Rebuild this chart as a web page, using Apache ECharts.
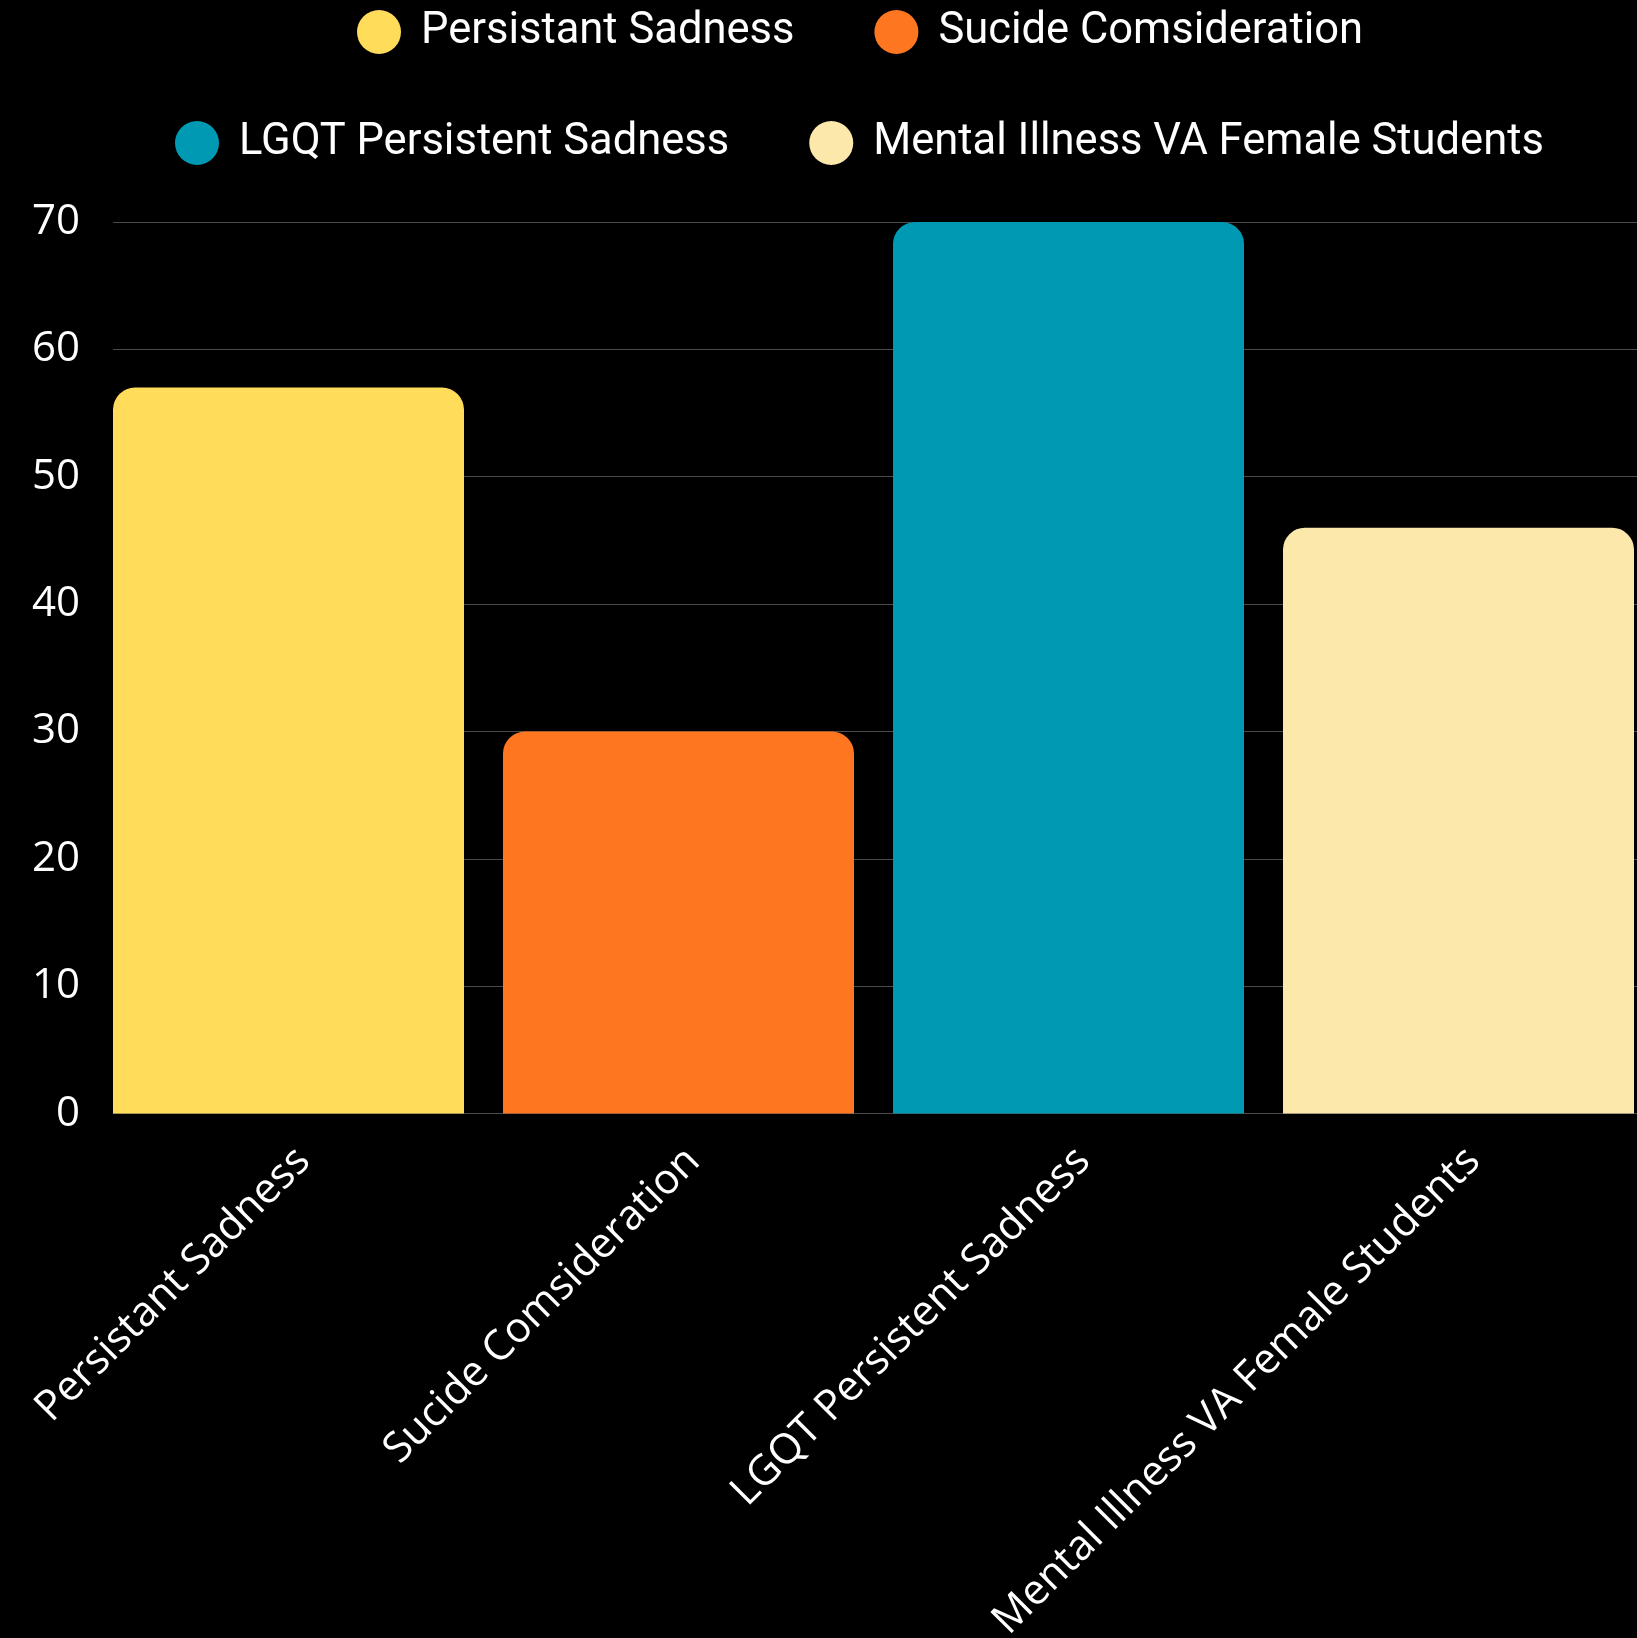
<!DOCTYPE html>
<html>
<head>
<meta charset="utf-8">
<script src="https://cdn.jsdelivr.net/npm/echarts@6/dist/echarts.min.js"></script>
<style>
html,body{margin:0;padding:0;background:#000;}
#chart{width:1637px;height:1638px;}
</style>
</head>
<body>
<div id="chart"></div>
<script>
const categories = ['Persistant Sadness', 'Sucide Comsideration', 'LGQT Persistent Sadness', 'Mental Illness VA Female Students'];
const values = [57, 30, 70, 46];
const colors = ['#FFDD5A', '#FF7621', '#0099B4', '#FDE8AC'];
const yTicks = { min: 0, max: 70, interval: 10 };

const chart = echarts.init(document.getElementById('chart'));

const series = categories.map((name, i) => ({
  name: name,
  type: 'bar',
  stack: 'all',
  xAxisIndex: 0,
  yAxisIndex: 0,
  barWidth: '90%',
  itemStyle: { color: colors[i], borderRadius: [22, 22, 0, 0] },
  data: values.map((v, j) => (j === i ? v : '-'))
}));

const legendText = { color: '#ffffff', fontSize: 43.5, fontFamily: 'Roboto', padding: [18, 0, 0, 15] };

chart.setOption({
  backgroundColor: '#000000',
  animation: false,
  legend: [
    {
      data: categories.slice(0, 2),
      left: 357, top: 10, padding: 0,
      icon: 'circle', itemWidth: 44, itemHeight: 44, itemGap: 80,
      textStyle: legendText
    },
    {
      data: categories.slice(2, 4),
      left: 175, top: 121, padding: 0,
      icon: 'circle', itemWidth: 44, itemHeight: 44, itemGap: 80,
      textStyle: legendText
    }
  ],
  grid: [
    { left: 93.5, top: 222, width: 1560, height: 891.6, containLabel: false, outerBoundsMode: 'none' },
    { left: 113, top: 222, right: 0, height: 891.6, containLabel: false, outerBoundsMode: 'none' }
  ],
  xAxis: [
    {
      gridIndex: 0, type: 'category', data: categories,
      axisLine: { show: false }, axisTick: { show: false },
      axisLabel: { rotate: 45, color: '#ffffff', fontSize: 42, fontFamily: 'Open Sans', margin: 26, interval: 0, verticalAlign: 'top' }
    },
    { gridIndex: 1, type: 'value', show: false }
  ],
  yAxis: [
    { gridIndex: 0, type: 'value', min: yTicks.min, max: yTicks.max, interval: yTicks.interval, show: false, splitLine: { show: false } },
    {
      gridIndex: 1, type: 'value', min: yTicks.min, max: yTicks.max, interval: yTicks.interval,
      axisLine: { show: false }, axisTick: { show: false },
      axisLabel: { color: '#ffffff', fontSize: 42, fontFamily: 'Open Sans', margin: 33 },
      splitLine: { lineStyle: { color: '#4a4a4a', width: 1 } }
    }
  ],
  series: series
});
</script>
</body>
</html>
